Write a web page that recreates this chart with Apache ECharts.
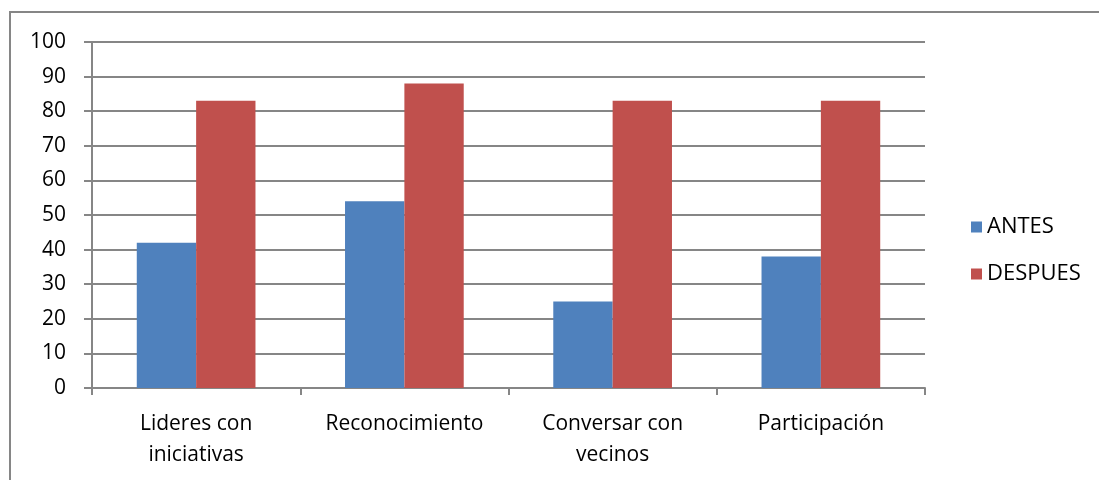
<!DOCTYPE html>
<html style="height: 100%">
<head>
    <meta charset="utf-8">
</head>
<body style="height: 100%; margin: 0">
<div id="container" style="width: 1099px; height: 480px"></div>
<script type="text/javascript" src="https://cdn.jsdelivr.net/npm/echarts@6/dist/echarts.min.js"></script>
<script type="text/javascript">
    var categories = ['Lideres con\niniciativas', 'Reconocimiento', 'Conversar con\nvecinos', 'Participación'];
    var antes = [42, 54, 25, 38];
    var despues = [83, 88, 83, 83];
    var yTicks = [0, 10, 20, 30, 40, 50, 60, 70, 80, 90, 100];

    var dom = document.getElementById('container');
    var myChart = echarts.init(dom);
    var font = 'Open Sans';
    var gray = '#868686';

    var option = {
        backgroundColor: '#fff',
        animation: false,
        textStyle: { fontFamily: font },
        graphic: [{
            type: 'rect',
            shape: { x: 10, y: 12, width: 1100, height: 480 },
            style: { fill: 'none', stroke: gray, lineWidth: 2 }
        }],
        grid: { left: 92, right: 174, top: 42, bottom: 92 },
        legend: {
            orient: 'vertical',
            left: 966,
            top: 211,
            itemWidth: 11,
            itemHeight: 11,
            itemGap: 25,
            icon: 'rect',
            textStyle: { fontSize: 22, color: '#000', fontFamily: font }
        },
        xAxis: {
            type: 'category',
            data: categories,
            axisLine: { lineStyle: { color: gray, width: 2 } },
            axisTick: { show: true, length: 7, lineStyle: { color: gray, width: 2 } },
            axisLabel: { interval: 0, fontSize: 21, color: '#000', lineHeight: 31, margin: 21 }
        },
        yAxis: {
            type: 'value',
            min: yTicks[0],
            max: yTicks[yTicks.length - 1],
            interval: 10,
            axisLine: { show: true, lineStyle: { color: gray, width: 2 } },
            axisTick: { show: true, inside: false, length: 8, lineStyle: { color: gray, width: 2 } },
            splitLine: { lineStyle: { color: gray, width: 2 } },
            axisLabel: { fontSize: 21, color: '#000', margin: 26 }
        },
        series: [{
            name: 'ANTES',
            type: 'bar',
            data: antes,
            barGap: '0%',
            barCategoryGap: '43%',
            itemStyle: { color: '#4F81BD' }
        }, {
            name: 'DESPUES',
            type: 'bar',
            data: despues,
            itemStyle: { color: '#C0504D' }
        }]
    };
    myChart.setOption(option, true);
</script>
</body>
</html>
